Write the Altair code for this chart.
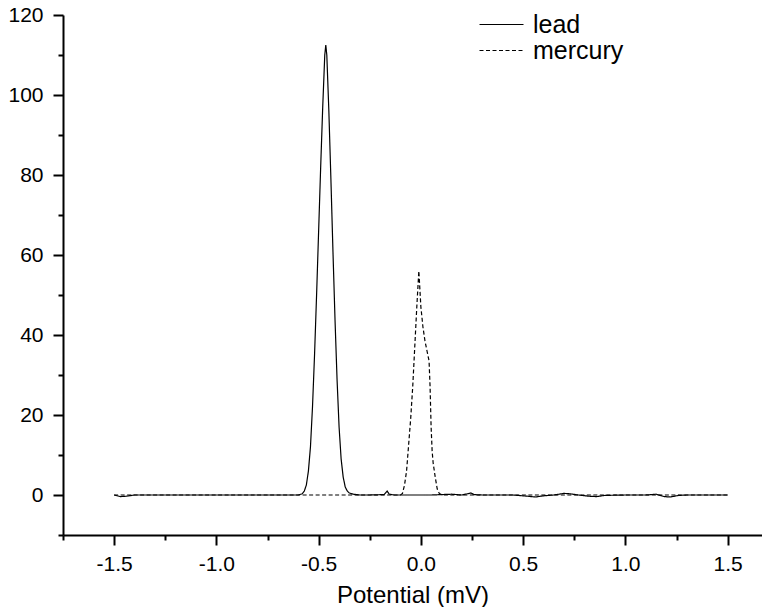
import altair as alt
import pandas as pd

# ---- data ----
series_names = ["lead", "mercury"]

lead_x = [-1.50, -1.47, -1.44, -1.40, -1.30, -1.20, -1.00, -0.80, -0.65, -0.60,
          -0.58, -0.57, -0.56, -0.55, -0.54, -0.53, -0.52, -0.51, -0.50, -0.49,
          -0.48, -0.47, -0.465, -0.46, -0.45, -0.44, -0.43, -0.42, -0.41, -0.40,
          -0.39, -0.38, -0.37, -0.36, -0.35, -0.33, -0.30, -0.25, -0.18, -0.165,
          -0.155, -0.13, -0.05, 0.05, 0.10, 0.15, 0.20, 0.245, 0.26, 0.30,
          0.45, 0.52, 0.56, 0.60, 0.65, 0.70, 0.73, 0.77, 0.82, 0.86,
          0.90, 1.00, 1.10, 1.15, 1.19, 1.22, 1.26, 1.30, 1.50]
lead_y = [0.0, -0.4, -0.3, 0.0, 0.0, 0.0, 0.0, 0.0, 0.0, 0.0,
          0.3, 1.0, 2.5, 6.0, 12.0, 22.0, 35.0, 50.0, 66.0, 82.0,
          97.0, 110.0, 112.5, 110.0, 96.0, 79.0, 61.0, 44.0, 29.0, 17.0,
          9.0, 4.5, 2.0, 1.0, 0.5, 0.2, 0.0, 0.0, 0.1, 1.0,
          0.2, 0.0, 0.0, 0.0, 0.1, 0.2, 0.0, 0.5, 0.1, 0.0,
          0.0, -0.3, -0.5, -0.2, 0.0, 0.4, 0.3, 0.0, -0.3, -0.4,
          -0.1, 0.0, 0.0, 0.2, -0.4, -0.5, -0.1, 0.0, 0.0]

mercury_x = [-1.50, -1.00, -0.50, -0.10, -0.09, -0.08, -0.07, -0.06, -0.05, -0.04,
             -0.03, -0.02, -0.01, 0.00, 0.01, 0.02, 0.03, 0.04, 0.045, 0.05,
             0.055, 0.06, 0.07, 0.08, 0.09, 0.10, 0.12, 0.50, 1.00, 1.50]
mercury_y = [0.0, 0.0, 0.0, 0.0, 0.4, 2.5, 6.0, 12.5, 19.0, 27.0,
             37.0, 47.0, 56.0, 47.0, 42.0, 38.5, 36.0, 33.5, 27.0, 17.0,
             11.0, 8.0, 4.5, 1.5, 0.4, 0.1, 0.0, 0.0, 0.0, 0.0]

x_major = [-1.5, -1.0, -0.5, 0.0, 0.5, 1.0, 1.5]
x_minor = [-1.75, -1.25, -0.75, -0.25, 0.25, 0.75, 1.25]
y_major = [0, 20, 40, 60, 80, 100, 120]
y_minor = [-10, 10, 30, 50, 70, 90, 110]

df = pd.concat([
    pd.DataFrame({"potential": lead_x, "signal": lead_y, "series": series_names[0]}),
    pd.DataFrame({"potential": mercury_x, "signal": mercury_y, "series": series_names[1]}),
], ignore_index=True)

FONT = "Liberation Sans"
xs = alt.Scale(domain=[-1.75, 1.668], nice=False, zero=False)
ys = alt.Scale(domain=[-10, 120], nice=False, zero=False)

lines = alt.Chart(df).mark_line(color="black", strokeWidth=1.2).encode(
    x=alt.X("potential:Q", scale=xs,
            axis=alt.Axis(values=x_major, format=".1f",
                          labelExpr="replace(datum.label, '\u2212', '-')",
                          title="Potential (mV)",
                          orient="bottom", grid=False, tickSize=10, tickWidth=2,
                          domainWidth=2, domainColor="black", tickColor="black",
                          labelFontSize=21, labelFont=FONT, labelColor="black",
                          titleFontSize=24, titleFont=FONT, titleFontWeight="normal",
                          titleColor="black", labelPadding=8, titlePadding=9)),
    y=alt.Y("signal:Q", scale=ys,
            axis=alt.Axis(values=y_major, format="d", title=None,
                          orient="left", grid=False, tickSize=10, tickWidth=2,
                          domainWidth=2, domainColor="black", tickColor="black",
                          labelFontSize=21, labelFont=FONT, labelColor="black",
                          labelPadding=10)),
    strokeDash=alt.StrokeDash(
        "series:N",
        scale=alt.Scale(domain=series_names, range=[[1, 0], [4, 2.5]]),
        legend=alt.Legend(orient="none", legendX=438, legendY=-3, title=None,
                          labelFontSize=25, labelFont=FONT, labelColor="black",
                          symbolType="M-3.4,0L1,0", symbolSize=400,
                          symbolStrokeWidth=1.2, symbolStrokeColor="black",
                          labelOffset=7, rowPadding=0, padding=0)),
)

minor = alt.Chart(df).mark_line(opacity=0).encode(
    x=alt.X("potential:Q", scale=xs,
            axis=alt.Axis(values=x_minor, labels=False, title=None, domain=False,
                          grid=False, tickSize=5, tickWidth=2, tickColor="black",
                          orient="bottom")),
    y=alt.Y("signal:Q", scale=ys,
            axis=alt.Axis(values=y_minor, labels=False, title=None, domain=False,
                          grid=False, tickSize=5, tickWidth=2, tickColor="black",
                          orient="left")),
)

chart = alt.layer(lines, minor).resolve_axis(
    x="independent", y="independent"
).properties(
    width=699, height=520,
    autosize=alt.AutoSizeParams(type="none"),
    padding={"left": 55, "top": 7, "right": 0, "bottom": 72},
).configure_view(stroke=None)

chart.save("out.html", embed_options={"renderer": "svg", "actions": False})
